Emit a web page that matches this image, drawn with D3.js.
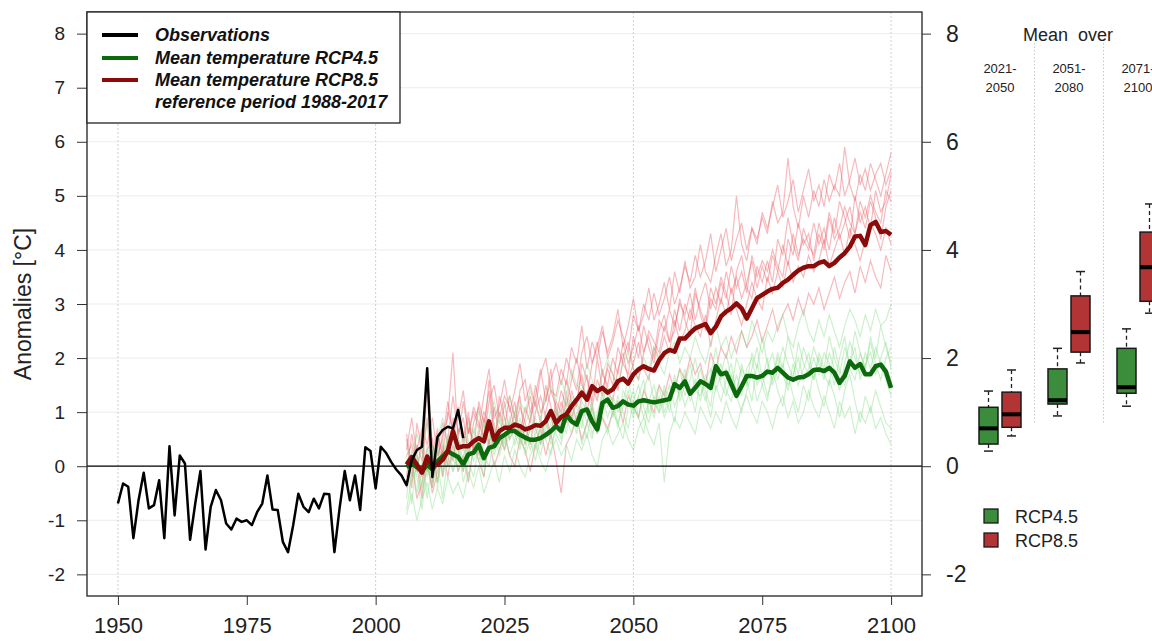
<!DOCTYPE html>
<meta charset="utf-8">
<style type="text/css">
body { margin: 0; background: #fff; }
svg { font-family: "Liberation Sans", Arial, sans-serif; }
.grid { stroke: #ececec; stroke-width: 1; }
.vgrid { stroke: #cfcfcf; stroke-width: 1; stroke-dasharray: 2,2; }
.member8 { fill: none; stroke: rgba(236, 90, 100, 0.42); stroke-width: 1.2; }
.member4 { fill: none; stroke: rgba(130, 220, 130, 0.4); stroke-width: 1.2; }
.mean { fill: none; stroke-width: 4.5; stroke-linejoin: round; }
.obs { fill: none; stroke: #000; stroke-width: 2.5; stroke-linejoin: round; }
.axis text { fill: #222; }
.axis path, .axis line { stroke: #333; }
</style>
<body>
<script src="https://cdnjs.cloudflare.com/ajax/libs/d3/7.8.5/d3.min.js"></script>
<script>

// observations 1950-2017
var obsStart = 1950;
var observations = [-0.69,-0.32,-0.38,-1.33,-0.63,-0.12,-0.78,-0.72,-0.26,-1.33,
  0.37,-0.91,0.20,0.05,-1.36,-0.69,-0.09,-1.54,-0.75,-0.44,
  -0.63,-1.06,-1.17,-0.97,-1.03,-1.00,-1.09,-0.85,-0.69,-0.17,
  -0.80,-0.81,-1.40,-1.59,-1.09,-0.51,-0.75,-0.85,-0.60,-0.78,
  -0.51,-0.52,-1.59,-0.78,-0.09,-0.63,-0.17,-0.81,0.35,0.28,
  -0.41,0.36,0.25,0.08,-0.06,-0.17,-0.35,0.11,0.30,0.36,
  1.81,-0.20,0.54,0.67,0.73,0.70,1.04,0.52];

// projections 2006-2100
var projStart = 2006;
var meanRCP85 = [0.03,0.17,0.03,-0.12,0.18,0.00,0.03,0.12,0.28,0.65,
  0.34,0.37,0.37,0.46,0.52,0.46,0.83,0.49,0.65,0.71,
  0.71,0.77,0.74,0.68,0.71,0.76,0.75,0.83,1.02,0.80,
  0.91,0.96,1.11,1.23,1.36,1.23,1.48,1.39,1.45,1.36,
  1.42,1.57,1.62,1.53,1.70,1.79,1.85,1.80,1.77,1.96,
  2.09,2.15,2.12,2.36,2.36,2.46,2.55,2.59,2.63,2.46,
  2.58,2.77,2.86,2.92,3.01,2.92,2.73,2.92,3.11,3.17,
  3.23,3.28,3.30,3.39,3.45,3.54,3.62,3.67,3.70,3.70,
  3.76,3.79,3.70,3.76,3.86,3.94,4.06,4.25,4.26,4.09,
  4.46,4.52,4.33,4.35,4.28];
var meanRCP45 = [-0.02,0.06,-0.02,-0.09,0.03,-0.06,0.09,0.18,0.28,0.22,
  0.17,0.03,0.22,0.25,0.40,0.15,0.34,0.37,0.52,0.58,
  0.65,0.65,0.58,0.53,0.49,0.49,0.52,0.58,0.65,0.74,
  0.65,0.96,0.83,0.77,1.02,1.05,0.83,0.68,1.17,1.23,
  1.08,1.11,1.20,1.14,1.12,1.20,1.22,1.20,1.18,1.20,
  1.22,1.24,1.52,1.45,1.57,1.34,1.45,1.57,1.52,1.45,
  1.85,1.70,1.73,1.52,1.30,1.48,1.67,1.67,1.64,1.67,
  1.75,1.73,1.82,1.73,1.64,1.60,1.64,1.65,1.70,1.78,
  1.79,1.76,1.82,1.73,1.54,1.67,1.94,1.82,1.89,1.70,
  1.70,1.85,1.88,1.75,1.45];

// single model runs RCP8.5
var runsRCP85 = [
  [0.3,0.9,0.2,-0.2,1.5,0.4,0.1,0.6,0.9,2.1, 0.5,1.2,0.6,1.0,0.7,1.3,1.8,0.9,1.1,1.6,
   1.0,1.4,1.9,1.2,1.5,1.1,1.7,2.0,1.4,1.3, 1.8,1.5,2.2,1.9,2.6,1.8,2.3,2.0,2.5,2.1,
   2.4,2.9,2.2,2.6,3.1,2.5,2.8,3.3,2.7,3.0, 3.4,2.9,3.6,3.2,3.8,3.3,3.5,4.1,3.6,3.4,
   3.9,4.3,3.7,4.0,5.0,4.1,3.8,4.4,4.2,4.6, 4.3,4.9,4.5,4.7,5.7,4.8,4.4,5.0,4.6,5.1,
   4.8,5.3,4.9,5.2,5.0,5.9,5.2,4.9,5.4,5.1, 5.6,5.3,5.0,5.4,5.8],
  [-0.4,0.1,-0.6,-0.3,0.2,-0.5,-0.1,0.3,-0.2,0.4, -0.1,0.2,-0.3,0.4,0.1,-0.2,0.5,0.0,0.3,0.6,
   0.2,0.0,0.5,0.3,-0.1,0.4,0.7,0.2,0.6,0.1, -0.5,0.4,0.6,0.9,0.5,0.8,1.1,0.6,0.9,0.7,
   1.0,1.2,0.8,1.3,1.1,0.9,1.4,1.2,1.0,1.5, 1.3,1.7,1.4,1.8,1.6,2.0,1.7,1.9,1.5,2.1,
   1.8,2.2,2.0,2.4,2.1,2.5,2.2,2.4,2.7,2.3, 2.6,2.9,2.5,2.8,3.0,2.7,3.1,2.8,3.2,3.0,
   3.3,2.9,3.2,3.5,3.1,3.4,3.6,3.2,3.7,3.4, 3.8,3.5,3.3,3.9,3.6],
  [0.5,-0.2,0.4,0.1,0.9,-0.3,0.6,0.2,1.0,0.7, 1.1,0.4,0.9,0.3,1.2,0.8,1.4,0.5,1.0,0.7,
   1.3,0.9,0.6,1.1,0.8,1.5,1.0,1.2,1.8,0.9, 1.4,1.1,1.6,2.0,1.5,1.3,1.9,2.3,1.7,1.5,
   2.0,1.7,2.3,1.9,2.2,2.6,2.1,2.4,2.0,2.7, 2.5,2.9,2.6,3.0,2.8,3.2,2.7,3.1,3.4,2.9,
   3.3,3.0,3.6,3.2,3.5,3.1,3.4,3.8,3.3,3.7, 3.4,3.9,3.6,4.1,3.7,4.3,3.9,4.2,4.0,4.5,
   4.1,4.4,4.0,4.6,4.2,4.5,4.8,4.3,4.7,4.4, 4.9,4.6,4.2,4.8,5.1],
  [-0.2,0.6,0.0,-0.6,0.3,0.5,-0.3,0.4,0.0,0.9, 0.3,-0.1,0.7,0.5,0.2,0.9,0.4,1.1,0.6,0.3,
   0.8,1.2,0.5,0.9,1.3,0.7,0.4,1.0,1.4,1.1, 0.6,1.3,0.9,1.2,1.7,1.0,1.5,1.2,1.8,1.4,
   1.2,1.8,2.1,1.6,1.9,2.3,1.8,1.6,2.2,2.0, 2.4,2.1,2.7,2.3,2.5,2.9,2.6,2.4,2.8,2.2,
   2.7,3.1,2.8,3.3,2.9,2.6,3.0,3.4,3.1,2.9, 3.5,3.2,3.6,3.3,3.8,3.4,3.7,3.5,3.9,3.6,
   3.8,4.2,3.7,4.0,4.3,3.9,4.4,4.1,3.8,4.2, 4.5,4.3,4.0,4.4,4.1],
  [0.1,-0.4,0.8,0.3,-0.1,0.2,0.7,-0.2,0.5,1.3, 0.6,0.9,0.2,0.8,1.1,0.5,1.6,0.7,0.4,1.2,
   0.6,1.0,1.3,0.4,0.9,1.2,0.8,1.5,1.1,0.7, 1.2,0.8,1.4,1.1,1.9,1.6,1.2,2.0,1.4,1.8,
   1.5,2.2,1.9,1.7,2.4,2.0,2.6,2.2,1.9,2.5, 2.8,2.3,2.5,3.1,2.7,2.4,3.2,2.9,2.6,3.3,
   3.0,3.5,3.2,2.8,3.6,3.9,3.3,3.1,3.7,3.4, 3.8,3.4,4.2,3.9,4.6,4.1,3.8,4.4,4.1,3.9,
   4.5,4.1,4.7,4.3,4.9,4.6,4.2,5.0,4.5,4.8, 4.4,5.1,4.7,4.9,5.4],
  [0.2,0.4,-0.1,0.5,0.0,-0.4,0.3,0.8,0.4,0.1, 0.7,0.5,1.0,0.2,0.6,1.0,0.8,0.3,1.3,0.9,
   0.5,0.7,1.1,0.8,0.4,1.0,1.3,0.9,0.6,1.2, 1.0,1.6,1.2,0.8,1.3,1.7,1.1,1.6,1.3,1.9,
   1.7,1.4,2.0,2.3,1.8,1.6,2.1,2.5,2.3,2.1, 2.6,2.3,2.9,2.5,3.0,2.7,3.3,2.8,2.5,3.1,
   2.9,3.4,3.1,3.7,3.3,3.6,3.2,3.9,3.5,3.8, 3.6,4.0,3.7,3.5,4.2,3.9,4.5,4.1,4.3,3.8,
   4.3,4.0,4.6,4.2,4.4,4.8,4.5,4.3,4.9,4.6, 5.0,4.7,4.5,5.1,4.9],
  [0.6,0.0,0.3,0.7,0.4,0.9,0.2,0.5,1.2,0.6, 0.9,1.4,0.6,1.1,0.8,0.5,1.2,1.5,0.9,1.3,
   1.1,0.7,1.4,1.6,1.0,1.3,1.8,1.2,1.6,1.9, 1.5,2.0,1.7,1.4,2.1,2.4,1.9,2.2,2.6,2.0,
   2.3,2.7,2.4,2.1,2.8,2.5,3.0,2.7,3.2,2.8, 3.1,3.5,3.0,3.3,3.7,3.4,3.9,3.5,3.8,4.3,
   3.6,4.0,4.4,3.8,4.2,4.5,4.0,4.4,4.1,4.7, 4.4,4.8,5.2,4.6,4.9,5.3,4.7,5.1,5.5,4.9,
   5.2,4.8,5.4,5.1,5.6,5.0,5.3,5.7,5.2,5.5, 5.1,5.4,5.6,5.2,5.5]
];

// single model runs RCP4.5
var runsRCP45 = [
  [0.4,0.1,0.6,0.3,0.8,0.2,0.5,0.9,0.4,0.7, 0.5,0.3,0.8,0.6,1.0,0.7,0.9,1.2,0.8,1.1,
   1.3,0.9,1.2,1.0,1.4,1.1,0.9,1.3,1.5,1.2, 1.6,1.3,1.8,1.5,1.4,1.9,1.6,1.3,1.7,2.0,
   1.7,1.5,1.9,2.1,1.8,1.6,2.0,1.8,2.2,1.9, 1.7,2.1,2.3,1.9,2.2,2.0,2.4,2.1,1.9,2.3,
   2.6,2.2,2.4,2.0,2.3,2.5,2.2,2.7,2.4,2.1, 2.5,2.3,2.6,2.8,2.4,2.2,2.6,2.9,2.5,2.3,
   2.7,2.4,2.8,2.5,2.2,2.6,2.9,2.7,2.4,2.8, 2.5,2.9,2.6,2.7,3.0],
  [-0.9,-0.5,-1.0,-0.6,-0.3,-0.8,-0.4,-0.7,-0.2,-0.5, -0.3,-0.6,-0.1,-0.4,0.0,-0.5,-0.2,0.1,-0.3,0.2,
   -0.1,0.3,0.0,-0.2,0.2,0.4,0.1,-0.1,0.3,0.5, 0.2,0.4,0.1,0.5,0.3,0.6,0.2,0.0,0.5,0.7,
   0.4,0.6,0.8,0.5,0.3,0.7,0.9,0.6,0.4,0.8, -0.3,0.6,0.9,0.7,1.0,0.8,0.6,1.1,0.9,0.7,
   1.0,0.8,1.2,0.9,0.7,1.1,1.3,1.0,0.8,1.2, 1.0,0.7,1.1,1.3,0.9,1.2,0.8,1.0,1.4,1.1,
   0.9,1.3,1.0,0.7,1.2,0.9,1.1,0.6,1.0,0.8, 1.1,0.7,0.9,0.6,0.4],
  [-0.3,0.2,-0.5,0.1,-0.2,0.3,-0.4,0.5,0.0,0.2, 0.6,-0.1,0.3,0.5,0.1,0.4,0.7,0.2,0.6,0.9,
   0.5,0.8,0.4,0.7,0.3,0.6,0.9,0.5,0.8,1.1, 0.7,1.2,0.9,0.6,1.1,0.8,0.5,1.0,1.3,0.9,
   1.2,0.8,1.1,1.4,1.0,1.3,0.9,1.2,1.5,1.1, 1.4,1.0,1.6,1.3,1.7,1.2,1.5,1.8,1.4,1.1,
   1.9,1.5,1.3,1.7,1.4,1.8,1.6,1.2,1.9,1.5, 1.8,2.1,1.6,1.9,1.5,1.7,2.0,1.6,1.8,2.2,
   1.9,1.6,2.1,1.8,1.4,1.9,2.3,2.0,1.7,2.1, 1.8,2.2,1.9,1.6,1.3],
  [0.1,-0.7,0.2,-0.4,0.4,-0.3,0.3,-0.1,0.6,0.1, 0.0,0.4,-0.2,0.3,0.7,0.2,0.0,0.5,0.9,0.4,
   0.8,0.4,0.7,0.2,0.5,0.1,0.6,0.9,0.4,0.7, 1.0,0.6,1.3,1.1,0.7,1.4,1.0,0.6,1.2,1.5,
   0.9,1.3,1.0,0.7,1.2,1.5,1.1,0.8,1.3,1.0, 1.2,1.5,1.1,1.4,1.8,1.3,1.6,1.2,1.7,1.4,
   1.6,1.9,1.4,1.2,1.7,1.3,1.8,2.0,1.5,1.7, 1.3,1.6,2.0,1.7,1.4,1.9,1.5,1.8,2.1,1.6,
   2.0,1.7,1.5,2.2,1.8,1.5,1.9,2.2,1.6,1.9, 2.1,1.7,2.0,2.3,1.8],
  [-0.6,0.3,-0.2,-0.8,0.1,0.4,-0.3,0.2,0.5,-0.1, 0.2,0.6,0.1,-0.2,0.4,0.8,0.3,0.6,0.2,0.5,
   0.9,0.6,0.3,0.8,1.0,0.5,0.2,0.7,0.9,0.6, 0.4,1.1,0.8,1.2,0.9,0.5,1.1,0.7,1.0,1.3,
   1.1,0.7,1.4,1.2,0.9,1.3,1.6,1.0,1.2,1.5, 1.0,1.3,1.7,1.2,1.5,1.9,1.4,1.3,1.6,1.8,
   1.4,1.7,2.1,1.6,1.3,1.9,1.5,1.8,2.2,1.6, 2.0,1.5,1.8,2.2,1.9,1.6,2.3,1.9,1.7,2.0,
   1.7,2.1,1.9,1.5,2.0,2.4,1.8,1.6,2.1,1.8, 2.3,1.9,1.6,2.0,2.2],
  [0.2,-0.3,0.0,0.3,-0.6,0.1,0.4,-0.2,0.3,0.6, -0.1,0.2,0.5,0.1,0.3,-0.2,0.6,0.4,0.7,0.3,
   0.6,1.0,0.5,0.3,0.7,0.9,0.4,0.8,0.5,1.0, 0.8,1.4,1.0,0.7,1.2,1.0,0.6,0.9,1.4,1.1,
   1.3,1.0,1.2,1.6,1.1,0.9,1.4,1.7,1.2,1.0, 1.5,1.2,1.4,1.8,1.3,1.6,2.0,1.5,1.2,1.7,
   2.2,1.6,1.8,1.4,2.0,1.7,1.5,2.1,1.8,2.4, 1.9,1.6,2.1,1.8,2.4,2.0,1.7,2.2,1.9,1.6,
   2.1,1.8,2.4,2.0,1.7,2.2,1.9,2.5,2.1,1.8, 2.4,2.0,2.6,2.2,1.9],
  [-0.8,-0.2,0.3,-0.5,0.0,-0.4,0.1,-0.6,0.2,-0.1, 0.4,-0.3,0.1,0.7,0.3,0.0,0.4,0.8,0.3,0.6,
   0.2,0.5,0.9,0.4,0.7,0.3,0.8,0.5,0.2,0.8, 0.5,0.9,0.6,1.0,0.4,0.8,1.2,0.7,0.9,0.6,
   1.0,0.8,0.5,1.1,1.4,0.9,0.6,1.2,0.9,1.3, 0.9,1.2,0.8,1.5,1.1,1.4,1.0,1.6,1.3,0.9,
   1.5,1.2,1.6,1.9,1.3,1.0,1.4,1.7,1.2,1.5, 1.2,1.8,1.4,1.1,1.7,1.3,1.0,1.5,1.2,1.8,
   1.4,1.1,1.6,1.3,0.9,1.4,1.7,1.2,0.8,1.3, 1.0,1.4,1.1,0.8,0.7]
];

// box plot statistics: [lower whisker, q1, median, q3, upper whisker]
var periodsTop = ["2021-", "2051-", "2071-"];
var periodsBottom = ["2050", "2080", "2100"];
var scenarios = ["RCP4.5", "RCP8.5"];
var boxRCP45 = [[0.28, 0.41, 0.70, 1.09, 1.39], [0.93, 1.15, 1.22, 1.80, 2.18], [1.11, 1.35, 1.46, 2.18, 2.54]];
var boxRCP85 = [[0.56, 0.72, 0.96, 1.37, 1.78], [1.91, 2.11, 2.48, 3.15, 3.60], [2.83, 3.05, 3.68, 4.33, 4.85]];

var legendLabels = ["Observations", "Mean temperature RCP4.5", "Mean temperature RCP8.5", "reference period 1988-2017"];
var leftTicks = [-2, -1, 0, 1, 2, 3, 4, 5, 6, 7, 8];
var rightTicks = [-2, 0, 2, 4, 6, 8];
var xTicks = [1950, 1975, 2000, 2025, 2050, 2075, 2100];
var vGridYears = [1950, 2000, 2050, 2100];

var col45 = "#0b6a0b", col85 = "#8b0a0a";
var box45 = "#3b8c3b", box85 = "#b33434";

var margin = {top: 12, left: 87, right: 922, bottom: 596};

var svg = d3.select("body").append("svg")
    .attr("width", 1152)
    .attr("height", 641);

var xScale = d3.scaleLinear().domain([1944, 2106]).range([margin.left, margin.right]);
var yScale = d3.scaleLinear().domain([-2.4, 8.4]).range([margin.bottom, margin.top]);
var plain = function(d) { return String(d); };   // hyphen minus like the original

// gridlines
svg.selectAll(".grid").data(leftTicks).enter().append("line")
    .attr("class", "grid")
    .attr("x1", margin.left).attr("x2", margin.right)
    .attr("y1", d => yScale(d)).attr("y2", d => yScale(d));
svg.selectAll(".vgrid").data(vGridYears).enter().append("line")
    .attr("class", "vgrid")
    .attr("x1", d => xScale(d)).attr("x2", d => xScale(d))
    .attr("y1", margin.top).attr("y2", margin.bottom);

// lines
var line = function(start) {
    return d3.line()
        .x(function(d, i) { return xScale(start + i); })
        .y(function(d) { return yScale(d); });
};

runsRCP85.forEach(function(r) {
    svg.append("path").datum(r).attr("class", "member8").attr("d", line(projStart));
});
runsRCP45.forEach(function(r) {
    svg.append("path").datum(r).attr("class", "member4").attr("d", line(projStart));
});

// zero line
svg.append("line")
    .attr("x1", margin.left).attr("x2", margin.right)
    .attr("y1", yScale(0)).attr("y2", yScale(0))
    .attr("stroke", "#000").attr("stroke-width", 1.2);

svg.append("path").datum(meanRCP45).attr("class", "mean").style("stroke", col45).attr("d", line(projStart));
svg.append("path").datum(meanRCP85).attr("class", "mean").style("stroke", col85).attr("d", line(projStart));
svg.append("path").datum(observations).attr("class", "obs").attr("d", line(obsStart));

// frame
svg.append("rect")
    .attr("x", margin.left).attr("y", margin.top)
    .attr("width", margin.right - margin.left).attr("height", margin.bottom - margin.top)
    .attr("fill", "none").attr("stroke", "#222").attr("stroke-width", 1.3);

// axes
var xAxis = d3.axisBottom(xScale).tickValues(xTicks).tickFormat(plain).tickSize(9).tickPadding(12);
var gx = svg.append("g").attr("class", "axis").attr("transform", "translate(0," + margin.bottom + ")").call(xAxis);
gx.select(".domain").remove();
gx.selectAll("text").style("font-size", "22px");

var yAxis = d3.axisLeft(yScale).tickValues(leftTicks).tickFormat(plain).tickSize(10).tickPadding(12);
var gy = svg.append("g").attr("class", "axis").attr("transform", "translate(" + margin.left + ",0)").call(yAxis);
gy.select(".domain").remove();
gy.selectAll("text").style("font-size", "19px");

var yAxisR = d3.axisRight(yScale).tickValues(rightTicks).tickFormat(plain).tickSize(9).tickPadding(15);
var gr = svg.append("g").attr("class", "axis").attr("transform", "translate(" + margin.right + ",0)").call(yAxisR);
gr.select(".domain").remove();
gr.selectAll("text").style("font-size", "23px");

svg.append("text")
    .attr("transform", "translate(31," + yScale(3) + ") rotate(-90)")
    .attr("text-anchor", "middle")
    .style("font-size", "23px").style("fill", "#222")
    .text("Anomalies [\u00B0C]");

// legend
svg.append("rect")
    .attr("x", margin.left).attr("y", margin.top).attr("width", 313).attr("height", 111)
    .attr("fill", "#fff").attr("stroke", "#222").attr("stroke-width", 1.3);
var legendColors = ["#000", col45, col85];
var legendY = [35, 58, 80, 102];
legendColors.forEach(function(c, i) {
    svg.append("line")
        .attr("x1", 102).attr("x2", 138)
        .attr("y1", legendY[i]).attr("y2", legendY[i])
        .attr("stroke", c).attr("stroke-width", 4);
});
legendLabels.forEach(function(t, i) {
    svg.append("text")
        .attr("x", 155).attr("y", legendY[i] + 6)
        .style("font-size", "18px").style("font-weight", "bold").style("font-style", "italic")
        .style("fill", "#111")
        .text(t);
});

// box plot panel
var xPeriod = d3.scaleBand().domain(d3.range(periodsTop.length)).range([965.5, 1172.5]);
var xScen = d3.scalePoint().domain(scenarios).range([-11.5, 11.5]);
var boxW = 19;

svg.append("text")
    .attr("x", 1068).attr("y", 41)
    .attr("text-anchor", "middle")
    .style("font-size", "18px").style("fill", "#222")
    .style("white-space", "pre")
    .text("Mean  over");

periodsTop.forEach(function(p, i) {
    var cx = xPeriod(i) + xPeriod.bandwidth() / 2;
    svg.append("text").attr("x", cx).attr("y", 73).attr("text-anchor", "middle")
        .style("font-size", "13px").style("fill", "#222").text(p);
    svg.append("text").attr("x", cx).attr("y", 92).attr("text-anchor", "middle")
        .style("font-size", "13px").style("fill", "#222").text(periodsBottom[i]);
    if (i > 0) {
        svg.append("line")
            .attr("x1", xPeriod(i)).attr("x2", xPeriod(i))
            .attr("y1", 43).attr("y2", 423)
            .attr("stroke", "#c8c8c8").attr("stroke-dasharray", "1.5,2");
    }
});

function drawBox(stats, i, scen, fill) {
    var cx = xPeriod(i) + xPeriod.bandwidth() / 2 + xScen(scen);
    var g = svg.append("g");
    g.append("line").attr("x1", cx).attr("x2", cx)
        .attr("y1", yScale(stats[4])).attr("y2", yScale(stats[3]))
        .attr("stroke", "#222").attr("stroke-width", 1.3).attr("stroke-dasharray", "4,3");
    g.append("line").attr("x1", cx).attr("x2", cx)
        .attr("y1", yScale(stats[1])).attr("y2", yScale(stats[0]))
        .attr("stroke", "#222").attr("stroke-width", 1.3).attr("stroke-dasharray", "4,3");
    [stats[0], stats[4]].forEach(function(v) {
        g.append("line").attr("x1", cx - 4.5).attr("x2", cx + 4.5)
            .attr("y1", yScale(v)).attr("y2", yScale(v))
            .attr("stroke", "#222").attr("stroke-width", 1.5);
    });
    g.append("rect")
        .attr("x", cx - boxW / 2).attr("y", yScale(stats[3]))
        .attr("width", boxW).attr("height", yScale(stats[1]) - yScale(stats[3]))
        .attr("fill", fill).attr("stroke", "#1a1a1a").attr("stroke-width", 1.5);
    g.append("line").attr("x1", cx - boxW / 2).attr("x2", cx + boxW / 2)
        .attr("y1", yScale(stats[2])).attr("y2", yScale(stats[2]))
        .attr("stroke", "#000").attr("stroke-width", 4);
}
boxRCP45.forEach(function(s, i) { drawBox(s, i, "RCP4.5", box45); });
boxRCP85.forEach(function(s, i) { drawBox(s, i, "RCP8.5", box85); });

// box legend
[box45, box85].forEach(function(c, i) {
    svg.append("rect").attr("x", 984).attr("y", 509 + i * 24).attr("width", 14).attr("height", 14)
        .attr("fill", c).attr("stroke", "#1a1a1a").attr("stroke-width", 1.3);
    svg.append("text").attr("x", 1015).attr("y", 523 + i * 24)
        .style("font-size", "18px").style("fill", "#222").text(scenarios[i]);
});

</script>
</body>
